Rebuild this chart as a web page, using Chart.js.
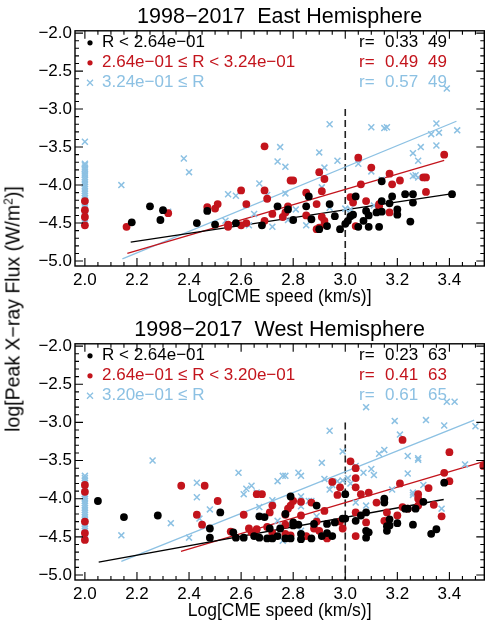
<!DOCTYPE html>
<html>
<head>
<meta charset="utf-8">
<script src="https://cdn.jsdelivr.net/npm/chart.js@4.4.1/dist/chart.umd.min.js"></script>
<style>
  html, body { margin: 0; padding: 0; background: #fff; overflow: hidden; }
  #wrap { position: relative; width: 486px; height: 627px; overflow: hidden; }
  canvas { position: absolute; left: 0; }
  #east { top: 0; }
  #west { top: 313px; }
  #ylab {
    position: absolute; left: 13px; top: 309px;
    transform: translate(-50%, -50%) rotate(-90deg);
    white-space: nowrap; font: 19.5px "Liberation Sans", Arial, sans-serif; color: #000;
  }
  #ylab sup { font-size: 12px; vertical-align: 7px; line-height: 0; }
</style>
</head>
<body>
<div id="wrap">
  <canvas id="east" width="490" height="313"></canvas>
  <canvas id="west" width="490" height="314"></canvas>
  <div id="ylab">log[Peak X&minus;ray Flux (W/m<sup>2</sup>)]</div>
</div>
<script>
// axes
const xTicks = [2.0, 2.2, 2.4, 2.6, 2.8, 3.0, 3.2, 3.4];
const yTicks = [-5.0, -4.5, -4.0, -3.5, -3.0, -2.5, -2.0];
const xRange = [1.962, 3.534];
const yRange = [-5.065, -1.97];
const splitX = 3.0, splitTop = -3.0;   // dashed marker

// events without a measured speed sit at log v = 2.0
const COL_X = 2.0;

// ---- East hemisphere ----
const eastBlack = [[2.18,-4.49],[2.25,-4.28],[2.29,-4.46],[2.30,-4.33],[2.43,-4.50],[2.47,-4.34],[2.50,-4.52],[2.58,-4.50],[2.68,-4.53],[2.74,-4.28],[2.78,-4.32],[2.80,-4.46],[2.85,-4.28],[2.86,-4.15],[2.87,-4.45],[2.90,-4.58],[2.93,-4.54],[2.94,-4.25],[2.96,-4.41],[2.98,-4.58],[3.00,-4.51],[3.01,-4.47],[3.02,-4.41],[3.03,-4.39],[3.04,-4.15],[3.05,-4.55],[3.07,-4.47],[3.08,-4.34],[3.09,-4.55],[3.09,-4.40],[3.12,-4.36],[3.13,-4.55],[3.14,-4.21],[3.14,-3.95],[3.14,-4.35],[3.17,-4.24],[3.18,-4.15],[3.20,-4.32],[3.20,-4.39],[3.23,-4.12],[3.25,-4.48],[3.26,-4.12],[3.26,-4.23],[3.41,-4.12]];
const eastRed = [[2.16,-4.55],[2.32,-4.37],[2.47,-4.29],[2.50,-4.31],[2.51,-4.25],[2.55,-4.55],[2.55,-4.52],[2.60,-4.07],[2.60,-4.53],[2.62,-4.25],[2.62,-4.50],[2.69,-3.49],[2.69,-4.07],[2.69,-4.47],[2.70,-4.18],[2.72,-4.38],[2.76,-4.42],[2.77,-4.36],[2.78,-4.28],[2.79,-3.94],[2.80,-3.94],[2.85,-4.10],[2.85,-4.40],[2.89,-4.25],[2.89,-4.58],[2.90,-3.83],[2.90,-4.56],[2.91,-4.42],[2.91,-4.08],[2.92,-3.92],[2.92,-4.47],[2.92,-4.52],[3.02,-4.16],[3.03,-4.23],[3.04,-4.54],[3.05,-3.64],[3.06,-3.99],[3.08,-4.21],[3.10,-3.77],[3.13,-4.25],[3.13,-4.28],[3.17,-3.85],[3.17,-4.36],[3.18,-3.99],[3.21,-3.94],[3.30,-3.90],[3.31,-3.90],[3.31,-4.09],[3.38,-3.60]];
const eastBlue = [[2.14,-4.00],[2.32,-4.35],[2.38,-3.65],[2.40,-3.83],[2.54,-4.47],[2.55,-4.12],[2.58,-4.14],[2.62,-4.26],[2.63,-4.53],[2.65,-4.38],[2.67,-3.98],[2.70,-4.13],[2.72,-4.55],[2.74,-3.69],[2.75,-3.50],[2.77,-3.76],[2.77,-4.11],[2.78,-4.46],[2.81,-4.32],[2.85,-4.53],[2.90,-3.57],[2.91,-4.03],[2.92,-3.77],[2.94,-3.20],[2.94,-4.30],[2.97,-3.68],[3.00,-4.31],[3.02,-4.32],[3.05,-3.72],[3.10,-3.24],[3.10,-3.82],[3.11,-4.27],[3.14,-3.93],[3.15,-3.25],[3.16,-3.24],[3.26,-3.58],[3.26,-3.88],[3.27,-3.87],[3.28,-3.68],[3.28,-3.90],[3.29,-3.50],[3.33,-3.33],[3.35,-3.19],[3.35,-3.48],[3.36,-3.31],[3.39,-2.73],[3.43,-3.28]];
const eastColBlack = [];
const eastColRed = [-4.21, -4.33, -4.42, -4.53];
const eastColBlue = [-3.43, -3.72, -3.74, -3.77, -3.79, -3.82, -3.85, -3.87, -3.90, -3.93, -3.96, -3.99, -4.02, -4.05, -4.08, -4.11, -4.14, -4.17, -4.20, -4.23, -4.26, -4.29, -4.32, -4.35, -4.38, -4.41, -4.44, -4.47, -4.50];
const eastFitBlack = [[2.176, -4.75], [3.40, -4.12]];
const eastFitRed = [[2.163, -4.90], [3.38, -3.675]];
const eastFitBlue = [[2.144, -4.97], [3.427, -3.16]];
const eastLegend = ['R < 2.64e\u221201', '2.64e\u221201 \u2264 R < 3.24e\u221201', '3.24e\u221201 \u2264 R'];
const eastStats = [['0.33', '49'], ['0.49', '49'], ['0.57', '49']];

// ---- West hemisphere ----
const westBlack = [[2.05,-4.03],[2.15,-4.24],[2.28,-4.22],[2.48,-4.39],[2.48,-4.51],[2.52,-4.18],[2.57,-4.44],[2.58,-4.51],[2.61,-4.51],[2.65,-4.49],[2.67,-4.23],[2.67,-4.51],[2.69,-4.24],[2.70,-4.52],[2.71,-4.39],[2.72,-4.52],[2.74,-4.49],[2.75,-4.39],[2.77,-4.20],[2.77,-4.52],[2.79,-4.52],[2.79,-3.97],[2.80,-4.31],[2.80,-4.35],[2.82,-4.34],[2.83,-4.46],[2.83,-4.53],[2.87,-4.52],[2.88,-4.33],[2.89,-4.09],[2.91,-4.49],[2.93,-4.45],[2.93,-4.33],[2.95,-4.49],[2.96,-4.31],[2.99,-4.26],[3.00,-3.94],[3.00,-4.26],[3.04,-4.29],[3.06,-4.22],[3.08,-4.42],[3.08,-4.51],[3.08,-4.18],[3.09,-4.44],[3.15,-4.05],[3.15,-4.00],[3.16,-4.42],[3.16,-4.36],[3.17,-4.27],[3.17,-4.35],[3.20,-4.32],[3.23,-4.13],[3.24,-4.13],[3.27,-4.13],[3.26,-4.34],[3.30,-4.04],[3.33,-4.46],[3.35,-4.40],[3.38,-3.79]];
const westRed = [[2.37,-3.83],[2.43,-4.21],[2.45,-4.34],[2.46,-3.83],[2.51,-4.03],[2.56,-4.43],[2.61,-4.21],[2.63,-4.39],[2.64,-4.44],[2.66,-4.40],[2.66,-3.94],[2.68,-3.94],[2.70,-4.37],[2.71,-4.18],[2.72,-4.09],[2.72,-4.45],[2.77,-4.34],[2.77,-4.46],[2.77,-4.21],[2.78,-4.13],[2.79,-4.09],[2.80,-4.03],[2.79,-4.48],[2.83,-4.22],[2.83,-4.04],[2.85,-4.49],[2.87,-4.05],[2.88,-4.39],[2.89,-4.30],[2.90,-4.42],[2.92,-4.16],[2.93,-4.52],[2.95,-3.78],[2.97,-3.95],[2.98,-3.85],[2.98,-4.30],[2.99,-4.39],[3.02,-3.51],[3.04,-3.60],[3.04,-3.73],[3.04,-3.85],[3.04,-4.49],[3.04,-4.18],[3.06,-3.94],[3.08,-4.31],[3.09,-3.92],[3.12,-4.05],[3.15,-4.29],[3.16,-4.18],[3.20,-4.22],[3.21,-3.80],[3.22,-3.23],[3.22,-4.11],[3.24,-4.13],[3.28,-3.94],[3.28,-4.00],[3.28,-4.09],[3.32,-3.86],[3.34,-4.08],[3.37,-4.23],[3.38,-3.66],[3.40,-3.39],[3.40,-3.77],[3.53,-3.57]];
const westBlue = [[2.14,-4.48],[2.26,-3.50],[2.33,-4.32],[2.40,-4.51],[2.43,-3.79],[2.43,-3.98],[2.44,-4.26],[2.48,-4.14],[2.59,-3.66],[2.61,-3.94],[2.62,-3.87],[2.64,-3.83],[2.66,-3.92],[2.67,-4.23],[2.67,-4.11],[2.72,-4.02],[2.74,-3.77],[2.76,-3.70],[2.77,-3.70],[2.74,-4.29],[2.76,-4.55],[2.82,-3.66],[2.83,-3.70],[2.83,-3.97],[2.83,-4.42],[2.83,-4.10],[2.86,-4.03],[2.87,-4.03],[2.89,-4.23],[2.91,-3.53],[2.92,-3.74],[2.94,-3.88],[2.95,-3.82],[2.94,-3.11],[2.97,-3.77],[2.99,-3.38],[2.99,-3.76],[3.01,-3.73],[3.02,-3.80],[3.04,-3.57],[3.04,-4.05],[3.08,-4.09],[3.07,-3.66],[3.08,-2.80],[3.10,-3.61],[3.11,-3.69],[3.13,-3.41],[3.15,-3.36],[3.18,-3.88],[3.19,-2.98],[3.21,-3.16],[3.24,-3.44],[3.24,-3.67],[3.26,-3.92],[3.26,-3.95],[3.28,-3.47],[3.28,-3.49],[3.30,-3.82],[3.31,-2.97],[3.37,-4.13],[3.38,-3.04],[3.39,-2.73],[3.42,-2.73],[3.46,-3.55],[3.50,-3.05]];
const westColBlack = [];
const westColRed = [-3.82, -3.91, -4.30, -4.45, -4.54];
const westColBlue = [-3.70, -3.73, -3.76, -3.79, -3.82, -3.85, -3.88, -3.91, -3.94, -3.97, -4.00, -4.03, -4.06, -4.09, -4.12, -4.15, -4.18, -4.21, -4.24, -4.27, -4.30, -4.33, -4.36, -4.39, -4.42, -4.45, -4.48, -4.52];
const westFitBlack = [[2.053, -4.83], [3.378, -4.01]];
const westFitRed = [[2.369, -4.69], [3.534, -3.51]];
const westFitBlue = [[2.14, -4.82], [3.495, -2.97]];
const westLegend = ['R < 2.64e\u221201', '2.64e\u221201 \u2264 R < 3.20e\u221201', '3.20e\u221201 \u2264 R'];
const westStats = [['0.23', '63'], ['0.41', '63'], ['0.61', '65']];

const BLACK = '#000000', RED = '#c3141c', BLUE = '#8cc1e3';
const FONT = '"Liberation Sans", Arial, Helvetica, sans-serif';
Chart.defaults.font.family = FONT;
Chart.defaults.color = '#000';

const xy = arr => arr.map(([x, y]) => ({ x, y }));
const col = arr => arr.map(y => ({ x: COL_X, y }));
const fmt = v => (v < 0 ? '\u2212' : '') + Math.abs(v).toFixed(1);

// box, inward ticks on all four sides, dashed marker, legend + r values
const framePlugin = {
  id: 'frame',
  beforeDatasetsDraw(chart) {
    const { ctx, scales: { x, y }, chartArea: a } = chart;
    ctx.save();
    ctx.strokeStyle = '#222';
    ctx.lineWidth = 1.6;
    ctx.setLineDash([7, 4]);
    const px = x.getPixelForValue(splitX);
    ctx.beginPath();
    ctx.moveTo(px, y.getPixelForValue(splitTop));
    ctx.lineTo(px, a.bottom);
    ctx.stroke();
    ctx.restore();
  },
  afterDraw(chart, args, opts) {
    const { ctx, scales: { x, y }, chartArea: a } = chart;
    ctx.save();
    ctx.strokeStyle = '#000';
    ctx.lineWidth = 1.4;
    ctx.strokeRect(a.left, a.top, a.right - a.left, a.bottom - a.top);
    ctx.lineWidth = 1.1;
    ctx.beginPath();
    for (let i = 0; i <= 31; i++) {
      const v = 2.0 + i * 0.05;
      if (v > x.max) break;
      const p = x.getPixelForValue(v);
      const len = i % 4 === 0 ? 8 : 4;
      ctx.moveTo(p, a.bottom); ctx.lineTo(p, a.bottom - len);
      ctx.moveTo(p, a.top); ctx.lineTo(p, a.top + len);
    }
    for (let i = 0; i <= 30; i++) {
      const v = -5.0 + i * 0.1;
      const p = y.getPixelForValue(v);
      const len = i % 5 === 0 ? 8 : 4;
      ctx.moveTo(a.left, p); ctx.lineTo(a.left + len, p);
      ctx.moveTo(a.right, p); ctx.lineTo(a.right - len, p);
    }
    ctx.stroke();

    // legend
    const colors = [BLACK, RED, BLUE];
    ctx.font = '17px ' + FONT;
    ctx.textBaseline = 'middle';
    ctx.textAlign = 'left';
    opts.labels.forEach((label, i) => {
      const ty = a.top + 12 + i * 20;
      ctx.fillStyle = colors[i];
      ctx.strokeStyle = colors[i];
      if (i < 2) {
        ctx.beginPath(); ctx.arc(90, ty, 2.6, 0, Math.PI * 2); ctx.fill();
      } else {
        ctx.lineWidth = 1.3;
        ctx.beginPath();
        ctx.moveTo(87, ty - 3); ctx.lineTo(93, ty + 3);
        ctx.moveTo(87, ty + 3); ctx.lineTo(93, ty - 3);
        ctx.stroke();
      }
      ctx.fillText(label, 102, ty);
      const [r, n] = opts.stats[i];
      ctx.fillText('r=', 359, ty);
      ctx.fillText(r, 385, ty);
      ctx.fillText(n, 428, ty);
    });
    ctx.restore();
  }
};

function makePanel(id, title, black, red, blue, cBlack, cRed, cBlue, fits, labels, stats) {
  const dot = c => ({ type: 'scatter', pointStyle: 'circle', pointRadius: 3.9, pointHoverRadius: 3.9,
                      backgroundColor: c, borderColor: c, borderWidth: 0 });
  const fitLine = (d, c) => ({ type: 'line', data: xy(d), borderColor: c, borderWidth: 1.3,
                               pointRadius: 0, fill: false, tension: 0 });
  new Chart(document.getElementById(id), {
    data: {
      datasets: [
        { ...dot(BLACK), data: xy(black).concat(col(cBlack)) },
        { ...dot(RED), data: xy(red).concat(col(cRed)) },
        { type: 'scatter', data: xy(blue).concat(col(cBlue)), pointStyle: 'crossRot', pointRadius: 4.2,
          pointHoverRadius: 4.2, borderColor: BLUE, backgroundColor: BLUE, borderWidth: 1.5 },
        fitLine(fits[0], BLACK),
        fitLine(fits[1], RED),
        fitLine(fits[2], BLUE)
      ]
    },
    options: {
      responsive: false,
      animation: false,
      events: [],
      layout: { padding: { left: 0, right: 3, top: 0, bottom: 0 } },
      plugins: {
        legend: { display: false },
        tooltip: { enabled: false },
        title: { display: true, text: title, fullSize: false, color: '#000',
                 font: { size: 21.5, weight: 'normal' }, padding: { top: 4, bottom: 1 } },
        frame: { labels, stats }
      },
      scales: {
        x: {
          type: 'linear', position: 'bottom', min: xRange[0], max: xRange[1],
          afterBuildTicks: s => { s.ticks = xTicks.map(v => ({ value: v })); },
          afterFit: s => { s.height = 47; },
          grid: { display: false, drawTicks: false },
          border: { display: false },
          ticks: { callback: v => fmt(v), font: { size: 17 }, color: '#000', padding: 4, maxRotation: 0, autoSkip: false },
          title: { display: true, text: 'Log[CME speed (km/s)]', color: '#000',
                   font: { size: 17.5 }, padding: { top: 0, bottom: 5 } }
        },
        y: {
          type: 'linear', position: 'left', min: yRange[0], max: yRange[1],
          afterBuildTicks: s => { s.ticks = yTicks.map(v => ({ value: v })); },
          afterFit: s => { s.width = 75; },
          grid: { display: false, drawTicks: false },
          border: { display: false },
          ticks: { callback: v => fmt(v), font: { size: 17 }, color: '#000', padding: 3, autoSkip: false }
        }
      }
    },
    plugins: [framePlugin]
  });
}

makePanel('east', '1998\u22122017  East Hemisphere', eastBlack, eastRed, eastBlue,
          eastColBlack, eastColRed, eastColBlue, [eastFitBlack, eastFitRed, eastFitBlue], eastLegend, eastStats);
makePanel('west', '1998\u22122017  West Hemisphere', westBlack, westRed, westBlue,
          westColBlack, westColRed, westColBlue, [westFitBlack, westFitRed, westFitBlue], westLegend, westStats);
</script>
</body>
</html>
